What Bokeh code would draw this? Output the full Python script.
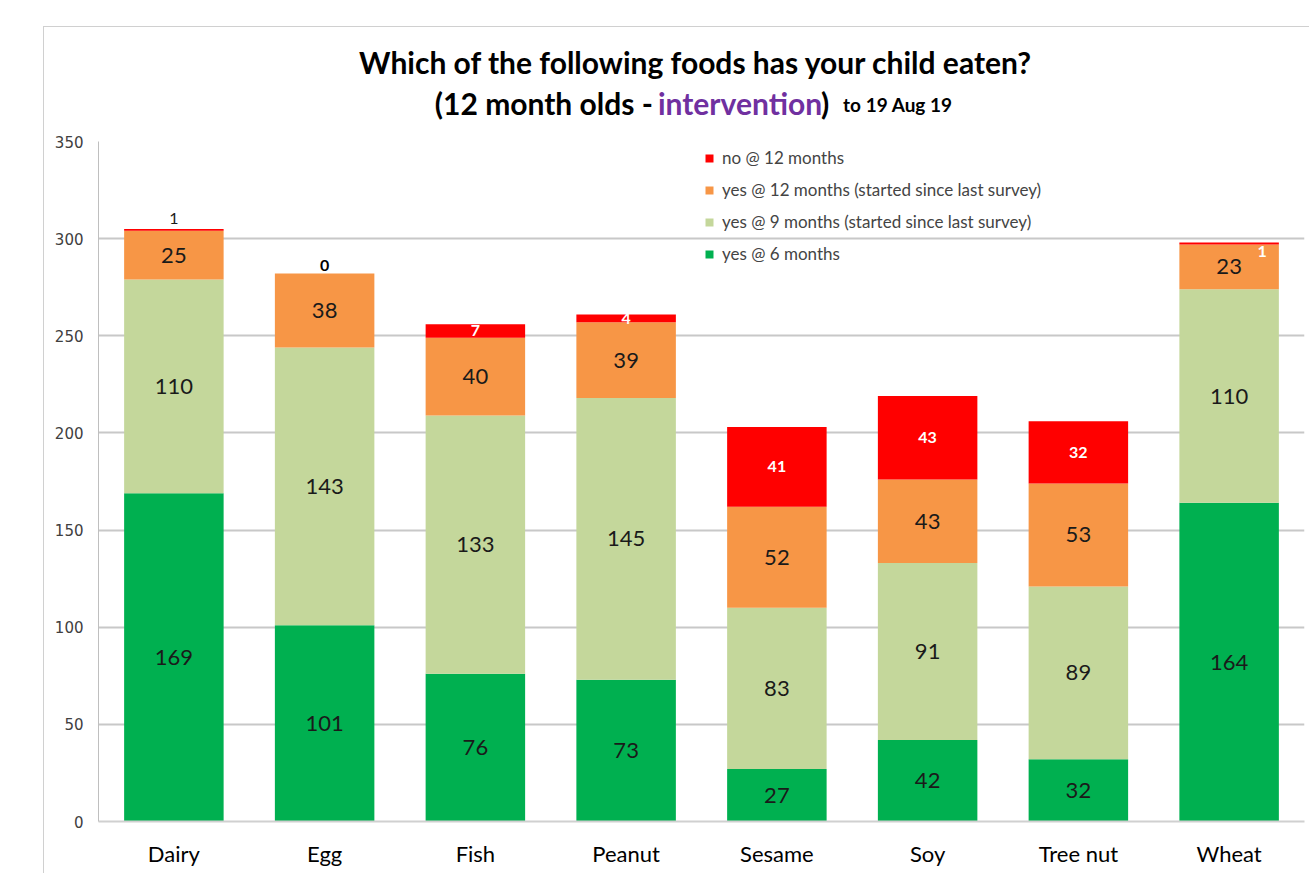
from bokeh.plotting import figure
from bokeh.layouts import column
from bokeh.models import ColumnDataSource, Legend, LegendItem, FactorRange, Range1d, FixedTicker
from bokeh.core.properties import value
from bokeh.embed import file_html
from bokeh.resources import INLINE

foods = ["Dairy", "Egg", "Fish", "Peanut", "Sesame", "Soy", "Tree nut", "Wheat"]
yes_6 = [169, 101, 76, 73, 27, 42, 32, 164]
yes_9 = [110, 143, 133, 145, 83, 91, 89, 110]
yes_12 = [25, 38, 40, 39, 52, 43, 53, 23]
no_12 = [1, 0, 7, 4, 41, 43, 32, 1]
series_names = ["yes @ 6 months",
                "yes @ 9 months (started since last survey)",
                "yes @ 12 months (started since last survey)",
                "no @ 12 months"]
y_ticks = [0, 50, 100, 150, 200, 250, 300, 350]
title_line1 = "Which of the following foods has your child eaten?"
title_parts = ["(12 month olds -", "intervention", ")", "to 19 Aug 19"]

colors = ["#00b050", "#c4d79b", "#f79646", "#ff0000"]
keys = ["s6", "s9", "s12", "n12"]
series = [yes_6, yes_9, yes_12, no_12]

src = ColumnDataSource(dict(food=foods, s6=yes_6, s9=yes_9, s12=yes_12, n12=no_12))

FONT = "Lato"
W = 1266
TH = 102
PH = 745
TOP = 26

# ---- title figure (its frame is aligned with the chart frame: page x 98..1303) ----
tf = figure(width=W, height=TH, x_range=Range1d(98, 1303), y_range=Range1d(TOP + TH, TOP),
            output_backend="svg", toolbar_location=None, min_border=0)
tf.axis.visible = False
tf.grid.grid_line_color = None
tf.outline_line_color = None

def ttext(txt, x, y, size, color="#000000", align="left"):
    tf.text(x=[x], y=[y], text=[txt], text_font=value(FONT), text_font_size=size,
            text_font_style="bold", text_color=color, text_align=align, text_baseline="middle")

ttext(title_line1, 695, 60, "30px", align="center")
ttext(title_parts[0], 652, 101, "30px", align="right")
ttext(title_parts[1], 739, 101, "30px", color="#7030a0", align="center")
ttext(title_parts[2], 820, 101, "30px")
ttext(title_parts[3], 842, 103, "19px")

# ---- main chart ----
p = figure(x_range=FactorRange(*foods), y_range=Range1d(0, 350),
           width=W, height=PH, output_backend="svg", toolbar_location=None,
           min_border_left=54, min_border_right=6, min_border_top=12, min_border_bottom=53)
p.x_range.range_padding = 0
p.outline_line_color = None

renderers = p.vbar_stack(keys, x="food", width=0.66, color=colors, source=src, line_color=None)

# data labels
lx, ly, lt, lc, lsz, lst, lxo, lyo = [], [], [], [], [], [], [], []
for i, f in enumerate(foods):
    cum = 0
    for k, s in enumerate(series):
        v = s[i]
        lx.append(f)
        lt.append(str(v))
        if k < 3:
            ly.append(cum + v / 2); lc.append("#1a1a1a"); lsz.append("22px"); lst.append("normal")
            lxo.append(0); lyo.append(0)
        else:
            top = cum + v
            if f == "Dairy":
                ly.append(top); lc.append("#1a1a1a"); lsz.append("16px"); lst.append("normal")
                lxo.append(0); lyo.append(-10)
            elif f == "Egg":
                ly.append(top); lc.append("#000000"); lsz.append("16px"); lst.append("bold")
                lxo.append(0); lyo.append(-8)
            elif f == "Wheat":
                ly.append(top); lc.append("#ffffff"); lsz.append("16px"); lst.append("bold")
                lxo.append(33); lyo.append(9)
            else:
                ly.append(cum + v / 2); lc.append("#ffffff"); lsz.append("16px"); lst.append("bold")
                lxo.append(0); lyo.append(0)
        cum += v

lsrc = ColumnDataSource(dict(x=lx, y=ly, t=lt, c=lc, sz=lsz, st=lst, xo=lxo, yo=lyo))
p.text(x="x", y="y", text="t", source=lsrc, text_color="c", text_font_size="sz",
       text_font_style="st", x_offset="xo", y_offset="yo", text_align="center",
       text_baseline="middle", text_font=value(FONT))

# axes
p.yaxis.ticker = FixedTicker(ticks=y_ticks)
p.yaxis.axis_line_color = "#bfbfbf"
p.yaxis.major_tick_line_color = None
p.yaxis.minor_tick_line_color = None
p.yaxis.major_label_text_font = "DejaVu Sans"
p.yaxis.major_label_text_font_size = "15px"
p.yaxis.major_label_text_color = "#404040"
p.yaxis.major_label_standoff = 9
p.xaxis.axis_line_color = "#d0d0d0"
p.xaxis.axis_line_width = 2
p.xaxis.major_tick_line_color = None
p.xaxis.major_label_text_font = FONT
p.xaxis.major_label_text_font_size = "22px"
p.xaxis.major_label_text_color = "#000000"
p.xaxis.major_label_standoff = 12
p.xgrid.grid_line_color = None
p.ygrid.grid_line_color = "#c8c8c8"
p.ygrid.grid_line_width = 2
p.ygrid.ticker = FixedTicker(ticks=y_ticks)

# legend
items = [LegendItem(label=series_names[k], renderers=[renderers[k]]) for k in [3, 2, 1, 0]]
legend = Legend(items=items, location=(606, 553), padding=0, margin=0, spacing=3,
                label_height=29, glyph_height=10, glyph_width=10, label_standoff=8,
                label_text_font=FONT, label_text_font_size="17px",
                background_fill_alpha=0, border_line_alpha=0)
p.add_layout(legend)

layout = column(tf, p, spacing=0)
layout.margin = (TOP, 0, 0, 43)
layout.styles = {"border-top": "1px solid #d0d0d0", "border-left": "1px solid #d0d0d0"}

open("out.html", "w").write(file_html(layout, INLINE))
